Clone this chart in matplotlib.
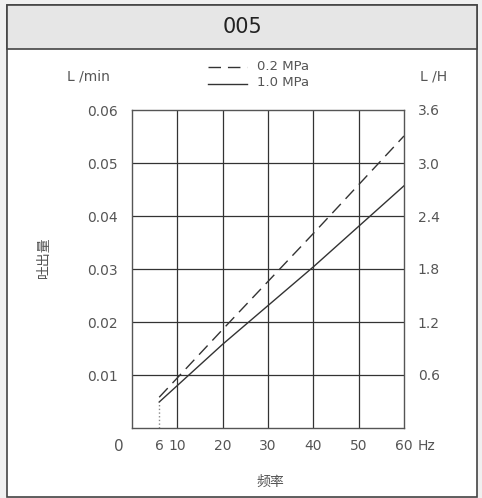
import matplotlib
matplotlib.use("Agg")
import matplotlib.pyplot as plt
from matplotlib.patches import Rectangle

plt.rcParams['font.family'] = ['DejaVu Sans', 'Noto Sans CJK SC']

# data (flow L/min vs frequency Hz)
freq = [6, 20, 40, 60]
flow_02mpa = [0.0058, 0.0186, 0.0367, 0.0551]
flow_10mpa = [0.0049, 0.0158, 0.0304, 0.0457]
x_ticks = [6, 10, 20, 30, 40, 50, 60]
y_ticks = [0.01, 0.02, 0.03, 0.04, 0.05, 0.06]
y_labels = ['0.01', '0.02', '0.03', '0.04', '0.05', '0.06']
right_labels = ['0.6', '1.2', '1.8', '2.4', '3.0', '3.6']

W, H = 482, 498
fig = plt.figure(figsize=(W / 100, H / 100), dpi=100)
fig.patch.set_facecolor('#f0f0f0')

def px(x, y, w, h):
    return (x / W, 1 - (y + h) / H, w / W, h / H)

# outer frame, header band
fx, fy, fw, fh = px(7, 5, 470, 492)
fig.patches.append(Rectangle((fx, fy), fw, fh, transform=fig.transFigure, zorder=-2,
                             facecolor='white', edgecolor='#444444', lw=1.2))
hx, hy, hw, hh = px(7, 5, 470, 44)
fig.patches.append(Rectangle((hx, hy), hw, hh, transform=fig.transFigure, zorder=-1,
                             facecolor='#e6e6e6', edgecolor='#444444', lw=1.2))
fig.text(242 / W, 1 - 27 / H, '005', ha='center', va='center', fontsize=15,
         color='#222222')

ax = fig.add_axes(px(132, 110, 272, 318))
ax.set_xlim(0, 60)
ax.set_ylim(0, 0.06)

ax.plot(freq, flow_02mpa, color='#333333', lw=1.0, dashes=(9, 5))
ax.plot(freq, flow_10mpa, color='#333333', lw=1.0)
ax.plot([6, 6], [0, flow_10mpa[0]], color='#888888', lw=1.0, ls=':')

ax.set_xticks(x_ticks)
ax.set_xticklabels([str(v) for v in x_ticks])
ax.set_yticks(y_ticks)
ax.set_yticklabels(y_labels)
ax.tick_params(length=0, labelsize=10, colors='#555555', pad=10)
ax.tick_params(axis='x', pad=8)
for v in [10, 20, 30, 40, 50]:
    ax.axvline(v, color='#333333', lw=0.9)
for v in y_ticks[:-1]:
    ax.axhline(v, color='#333333', lw=0.9)
for s in ax.spines.values():
    s.set_color('#555555')
    s.set_linewidth(1.0)

ax2 = ax.twinx()
ax2.set_ylim(0, 3.6)
ax2.set_yticks([0.6, 1.2, 1.8, 2.4, 3.0, 3.6])
ax2.set_yticklabels(right_labels)
ax2.tick_params(length=0, labelsize=10, colors='#555555', pad=10)
for s in ax2.spines.values():
    s.set_visible(False)

ax.text(-3, -0.0034, '0', ha='center', va='center', fontsize=11, color='#555555', clip_on=False)
ax.text(65, -0.0034, 'Hz', ha='center', va='center', fontsize=10, color='#555555', clip_on=False)

# axis titles
fig.text(88 / W, 1 - 77 / H, 'L /min', ha='center', va='center', fontsize=10, color='#555555')
fig.text(434 / W, 1 - 77 / H, 'L /H', ha='center', va='center', fontsize=10, color='#555555')
fig.text(270 / W, 1 - 482 / H, '频率', ha='center', va='center', fontsize=10,
         family='Noto Sans CJK SC', color='#555555')
fig.text(44 / W, 1 - 257 / H, '吐出量', ha='center', va='center', fontsize=10, rotation=90,
         family='Noto Sans CJK SC', color='#555555')

# legend
fig.add_artist(plt.Line2D([208 / W, 247 / W], [1 - 67 / H] * 2, color='#333333', lw=1.0, dashes=(9, 5)))
fig.add_artist(plt.Line2D([208 / W, 247 / W], [1 - 84 / H] * 2, color='#333333', lw=1.0))
fig.text(257 / W, 1 - 66 / H, '0.2 MPa', ha='left', va='center', fontsize=9.5, color='#555555')
fig.text(257 / W, 1 - 83 / H, '1.0 MPa', ha='left', va='center', fontsize=9.5, color='#555555')

fig.savefig('out.png', dpi=100, facecolor=fig.get_facecolor())
